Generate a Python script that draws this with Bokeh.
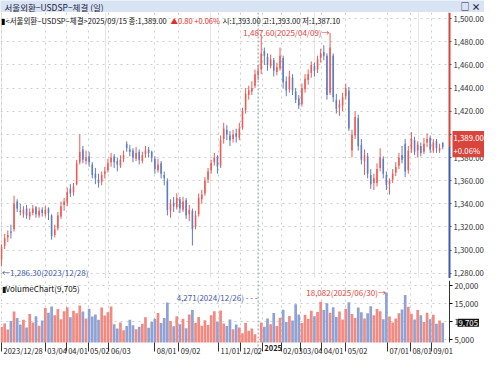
import numpy as np
from bokeh.plotting import figure
from bokeh.layouts import column
from bokeh.models import (Range1d, FixedTicker, NumeralTickFormatter, Grid, Span,
                          Label, ColumnDataSource, BoxAnnotation)
from bokeh.embed import file_html
from bokeh.resources import INLINE

FONT = "Noto Sans CJK KR"

# ---------------- data ----------------
title_text = "서울외환−USDSP−체결 (일)"
series_name = "서울외환−USDSP−체결"
last_date = "2025/09/15"

tick_days = [0, 42, 62, 83, 103, 147, 170, 208, 229, 250, 268, 287, 307, 330, 370, 392, 412]
tick_labels = ["2023/12/28", "03/04", "04/01", "05/02", "06/03", "08/01", "09/02", "11/01",
               "12/02", "2025", "02/03", "03/04", "04/01", "05/02", "07/01", "08/01", "09/01"]
price_ticks = [1280, 1300, 1320, 1340, 1360, 1380, 1400, 1420, 1440, 1460, 1480, 1500]
vol_ticks = [5000, 10000, 15000, 20000]

max_date = "2025/04/09"
min_date = "2023/12/28"
vmax_date = "2025/06/30"
vmin_date = "2024/12/26"

opens = [1292, 1304, 1311, 1316, 1318, 1342, 1334, 1331, 1336, 1329,
         1332, 1337, 1330, 1335, 1331, 1336, 1330, 1313, 1319, 1329,
         1339, 1341, 1353, 1350, 1357, 1376, 1387, 1377, 1381, 1374,
         1366, 1361, 1359, 1366, 1369, 1376, 1381, 1377, 1373, 1379,
         1392, 1387, 1386, 1379, 1385, 1377, 1383, 1387, 1385, 1379,
         1369, 1375, 1365, 1360, 1334, 1341, 1337, 1344, 1335, 1343,
         1331, 1334, 1320, 1331, 1344, 1349, 1361, 1369, 1376, 1381,
         1373, 1396, 1404, 1399, 1396, 1401, 1397, 1406, 1421, 1434,
         1437, 1442, 1451, 1456, 1472, 1467, 1459, 1464, 1454, 1457,
         1466, 1446, 1439, 1449, 1437, 1431, 1426, 1439, 1447, 1453,
         1459, 1456, 1466, 1471, 1468, 1436, 1468, 1430, 1423, 1425,
         1433, 1438, 1386, 1399, 1414, 1391, 1377, 1381, 1365, 1358,
         1358, 1371, 1379, 1365, 1357, 1361, 1367, 1373, 1382, 1392,
         1369, 1387, 1395, 1386, 1390, 1385, 1393, 1397, 1386, 1394,
         1386, 1393]
highs = [1305, 1314, 1317, 1322, 1347, 1344, 1340, 1338, 1339, 1336,
         1339, 1338, 1337, 1337, 1338, 1337, 1331, 1322, 1333, 1342,
         1345, 1354, 1357, 1358, 1378, 1400, 1390, 1386, 1385, 1376,
         1371, 1366, 1368, 1372, 1379, 1384, 1383, 1380, 1382, 1386,
         1394, 1391, 1388, 1389, 1387, 1385, 1390, 1389, 1386, 1381,
         1379, 1377, 1368, 1362, 1344, 1346, 1349, 1346, 1346, 1345,
         1339, 1336, 1334, 1349, 1352, 1363, 1371, 1378, 1384, 1382,
         1399, 1410, 1408, 1403, 1404, 1405, 1410, 1423, 1440, 1442,
         1446, 1456, 1460, 1486, 1475, 1470, 1469, 1466, 1462, 1475,
         1468, 1450, 1455, 1452, 1440, 1434, 1444, 1452, 1456, 1463,
         1462, 1468, 1474, 1477, 1470, 1487.6, 1470, 1435, 1430, 1436,
         1444, 1441, 1404, 1420, 1417, 1396, 1387, 1384, 1370, 1366,
         1375, 1388, 1381, 1368, 1362, 1370, 1376, 1384, 1390, 1396,
         1390, 1402, 1398, 1394, 1393, 1397, 1401, 1399, 1396, 1396,
         1392, 1393]
lows = [1286.3, 1301, 1307, 1310, 1316, 1333, 1330, 1328, 1327, 1326,
        1330, 1328, 1328, 1329, 1329, 1326, 1309, 1311, 1317, 1327,
        1334, 1338, 1346, 1347, 1356, 1374, 1375, 1374, 1372, 1362,
        1357, 1354, 1356, 1362, 1367, 1372, 1371, 1368, 1371, 1376,
        1385, 1381, 1376, 1377, 1374, 1375, 1380, 1380, 1376, 1366,
        1367, 1362, 1356, 1330, 1328, 1333, 1335, 1332, 1333, 1327,
        1325, 1304, 1318, 1329, 1340, 1347, 1358, 1366, 1373, 1366,
        1371, 1392, 1395, 1390, 1393, 1393, 1395, 1404, 1418, 1430,
        1434, 1440, 1447, 1452, 1460, 1455, 1457, 1450, 1451, 1455,
        1440, 1433, 1436, 1434, 1427, 1422, 1424, 1436, 1443, 1449,
        1450, 1453, 1462, 1464, 1430, 1434, 1428, 1418, 1416, 1420,
        1430, 1403, 1380, 1396, 1386, 1374, 1365, 1362, 1353, 1352,
        1355, 1368, 1362, 1352, 1348, 1358, 1364, 1370, 1375, 1363,
        1366, 1384, 1382, 1380, 1381, 1383, 1389, 1384, 1384, 1384,
        1384, 1387.1]
closes = [1303, 1310, 1313, 1315, 1340, 1336, 1333, 1335, 1330, 1333,
          1336, 1331, 1334, 1332, 1335, 1332, 1312, 1318, 1330, 1338,
          1342, 1350, 1349, 1355, 1375, 1385, 1378, 1380, 1376, 1365,
          1362, 1358, 1365, 1368, 1375, 1380, 1376, 1374, 1378, 1382,
          1388, 1385, 1380, 1384, 1378, 1382, 1386, 1384, 1380, 1370,
          1374, 1366, 1362, 1335, 1340, 1338, 1345, 1336, 1342, 1330,
          1335, 1318, 1330, 1345, 1348, 1360, 1368, 1375, 1380, 1372,
          1395, 1405, 1400, 1395, 1400, 1398, 1405, 1420, 1435, 1438,
          1440, 1452, 1455, 1470, 1468, 1460, 1465, 1455, 1458, 1468,
          1445, 1438, 1450, 1438, 1430, 1425, 1440, 1448, 1452, 1460,
          1455, 1465, 1470, 1468, 1434, 1475, 1432, 1422, 1426, 1432,
          1440, 1405, 1400, 1415, 1390, 1378, 1382, 1366, 1357, 1362,
          1370, 1380, 1366, 1356, 1360, 1366, 1372, 1380, 1378, 1368,
          1386, 1396, 1385, 1391, 1384, 1392, 1396, 1387, 1393, 1388,
          1388.2, 1389]
volumes = [8500, 9500, 7800, 10200, 12800,
           11000, 9200, 10500, 8400, 12100, 9800, 11500, 8900, 10300,
           13800, 12500, 14200, 11800, 13500, 10700, 12900, 14000,
           11200, 13000, 12300, 14500, 12800, 10900, 13600, 11400, 12000, 10500, 13900, 11700, 12600, 14200,
           9300, 8100, 9800, 7600, 8800, 10500, 9000, 7900, 8600, 9400, 11200, 8300, 9900, 10800,
           12400, 9600, 11000, 15300,
           10200, 8700, 11500, 9300, 10800, 8200, 12000, 13200, 9700, 11300,
           8900, 10400, 9100, 11800, 12900, 10000, 13100, 9500, 8800, 10600,
           7900, 9200, 8400, 6800, 9600, 7500, 8100, 6500, 4271,
           9800, 8600, 10900, 9300, 12400, 8800, 11100, 13300, 9900, 11600,
           10300, 14800, 12000, 9600, 11900, 10800, 13000, 11500, 12700,
           15500, 13200, 15100, 12500, 14000, 11300, 12800, 10600, 13600, 15400,
           12100, 11000, 13900, 12600, 10900, 12300, 14300, 11800, 13500, 12900, 10700,
           18082,
           11400, 9800, 10900, 12300, 13400, 17400, 14100, 12200, 10600, 13200,
           11800, 9900, 12500, 10700, 11900, 9400, 10300, 9705]

day_step = 3

# ---------------- derived ----------------
n = len(closes)
days = np.arange(n) * day_step
o = np.array(opens, float); h = np.array(highs, float)
l = np.array(lows, float); c = np.array(closes, float)
v = np.array(volumes, float)
up = c >= o
RED, BLUE = "#ec5c55", "#5f7cc2"
VRED, VBLUE = "#f28a82", "#8fa2d3"
cols = [RED if u else BLUE for u in up]
vcols = [VRED if u else VBLUE for u in up]

W = 484
AXIS_PX = 449                      # pixel where the right axis sits
X0, X1 = -1, 429.5                 # data area (trading-day index)
XE = X1 + (W - AXIS_PX) * (X1 - X0) / AXIS_PX
P0, P1 = 1275.5, 1505.3
PH = 266
V0, V1 = 4230, 21400
VH, VB = 62, 13
VBOT = V0 - VB * (V1 - V0) / VH
GRID = "#cdcdcd"
AXF = "7.8px"

src = ColumnDataSource(dict(x=days, o=o, h=h, l=l, c=c,
                            top=np.maximum(o, c), bot=np.minimum(o, c),
                            col=cols, vol=v, vcol=vcols))


def lab(fig, text, x, y, xu="data", yu="data", color="#111111", align="left",
        base="middle", size="8px", bold=False, xo=0, yo=0, bg=None, pad=0):
    lb = Label(x=x, y=y, x_units=xu, y_units=yu, text=text, text_color=color,
               text_align=align, text_baseline=base, text_font=FONT,
               text_font_size=size, text_font_style="bold" if bold else "normal",
               x_offset=xo, y_offset=yo)
    if bg is not None:
        lb.background_fill_color = bg
        lb.padding = pad
    fig.add_layout(lb)


# ---------------- header bar ----------------
hdr = figure(width=W, height=12, x_range=Range1d(0, W), y_range=Range1d(0, 12),
             toolbar_location=None, output_backend="svg", min_border=0,
             x_axis_location=None, y_axis_location=None,
             background_fill_color="#d8e4f3", border_fill_color="#d8e4f3",
             outline_line_color=None)
hdr.xgrid.visible = False
hdr.ygrid.visible = False
lab(hdr, title_text, 4, 6, size="8.5px", color="#1c2040")
lab(hdr, "□ ×", 480, 6, align="right", size="9px", color="#1c2040", bold=True)

# ---------------- price panel ----------------
p = figure(width=W, height=PH, x_range=Range1d(X0, XE), y_range=Range1d(P0, P1),
           x_axis_location=None, y_axis_location="right", toolbar_location=None,
           output_backend="svg", min_border=0, outline_line_color=None)
p.yaxis.fixed_location = X1
p.yaxis.ticker = FixedTicker(ticks=price_ticks)
p.yaxis.formatter = NumeralTickFormatter(format="0,0.00")
p.yaxis.major_label_text_font = FONT
p.yaxis.major_label_text_font_size = AXF
p.yaxis.major_label_text_color = "#333333"
p.yaxis.major_label_standoff = 2
p.yaxis.major_tick_out = 2
p.yaxis.major_tick_in = 0
p.yaxis.minor_tick_out = 0
p.yaxis.minor_tick_in = 0
p.yaxis.major_tick_line_color = "#555555"
p.yaxis.axis_line_color = None
p.ygrid.grid_line_color = GRID
p.ygrid.grid_line_dash = "dotted"
p.add_layout(Grid(dimension=0, ticker=FixedTicker(ticks=tick_days),
                  grid_line_color=GRID, grid_line_dash="dotted"))
p.add_layout(BoxAnnotation(left=X1, fill_color="#ffffff", fill_alpha=1.0,
                           line_color=None, level="underlay"))

p.segment(x0="x", y0="h", x1="x", y1="l", color="col", line_width=1, source=src)
p.vbar(x="x", width=1.5, top="top", bottom="bot", fill_color="col", line_color=None, source=src)

# axis line: red above the current price, blue below
p.segment(x0=[X1, X1], y0=[c[-1], P0], x1=[X1, X1], y1=[P1, c[-1]],
          color=["#d8453c", "#3d5cb0"], line_width=2)

imin_v = int(np.argmin(v))
p.add_layout(Span(location=days[imin_v], dimension="height", line_color="#8a93aa",
                  line_dash="2 2", line_width=1))

# info line
chg = c[-1] - c[-2]
pct = chg / c[-2] * 100
INFO = "7.5px"
lab(p, "▮", 0, P1, xu="screen", base="top", yo=-2, size=INFO, color="#000000")
lab(p, f"<{series_name}>{last_date} 종:{c[-1]:,.2f}", 5, P1, xu="screen", base="top",
    yo=-2, size=INFO)
lab(p, f"▲{chg:.2f} +{pct:.2f}%", 170, P1, xu="screen", base="top", yo=-2,
    color="#e0302a", size=INFO)
lab(p, f"시:{o[-1]:,.2f} 고:{h[-1]:,.2f} 저:{l[-1]:,.2f}", 222, P1, xu="screen",
    base="top", yo=-2, size=INFO)

# max / min markers
imax = int(np.argmax(h))
imin = int(np.argmin(l))
lab(p, f"{h[imax]:,.2f}({max_date})→", days[imax] - 0.5, h[imax], align="right",
    color="#e0453c", size="8px")
lab(p, f"←{l[imin]:,.2f}({min_date})", days[imin] + 0.5, l[imin], align="left",
    base="top", color="#3f5aa8", size="8px", yo=-1)

# current price box
lab(p, f"{c[-1]:,.2f}\n+{pct:.2f}%", X1, c[-1], align="left", base="middle",
    color="#ffffff", size=AXF, xo=3, yo=3, bg="#d8453c", pad=1)

# ---------------- separator ----------------
sep = figure(width=W, height=2, toolbar_location=None, output_backend="svg", min_border=0,
             x_axis_location=None, y_axis_location=None,
             background_fill_color="#b4b4b4", border_fill_color="#b4b4b4",
             outline_line_color=None)
sep.xgrid.visible = False
sep.ygrid.visible = False

# ---------------- volume panel ----------------
vf = figure(width=W, height=VH + VB, x_range=p.x_range, y_range=Range1d(VBOT, V1),
            y_axis_location="right", x_axis_location="below", toolbar_location=None,
            output_backend="svg", min_border=0, outline_line_color=None)
vf.yaxis.fixed_location = X1
vf.yaxis.bounds = (V0, V1)
vf.yaxis.ticker = FixedTicker(ticks=vol_ticks)
vf.yaxis.formatter = NumeralTickFormatter(format="0,0")
vf.yaxis.major_label_text_font = FONT
vf.yaxis.major_label_text_font_size = AXF
vf.yaxis.major_label_text_color = "#333333"
vf.yaxis.major_label_standoff = 2
vf.yaxis.major_tick_out = 3
vf.yaxis.major_tick_in = 0
vf.yaxis.minor_tick_out = 0
vf.yaxis.minor_tick_in = 0
vf.yaxis.axis_line_color = "#333333"
vf.ygrid.grid_line_color = GRID
vf.ygrid.grid_line_dash = "dotted"

vf.xaxis.fixed_location = V0
vf.xaxis.ticker = FixedTicker(ticks=tick_days)
vf.xaxis.major_label_overrides = {t: "" for t in tick_days}
vf.xaxis.major_label_text_font_size = "0px"
vf.xaxis.major_label_standoff = 0
vf.xaxis.major_tick_out = 9
vf.xaxis.major_tick_in = 0
vf.xaxis.minor_tick_out = 0
vf.xaxis.minor_tick_in = 0
vf.xaxis.major_tick_line_color = "#333333"
vf.xaxis.axis_line_color = None
vf.xgrid.grid_line_color = GRID
vf.xgrid.grid_line_dash = "dotted"
vf.add_layout(BoxAnnotation(left=X1, fill_color="#ffffff", fill_alpha=1.0,
                            line_color=None, level="underlay"))
vf.add_layout(BoxAnnotation(top=V0, fill_color="#ffffff", fill_alpha=1.0,
                            line_color=None, level="underlay"))

vf.vbar(x="x", width=2.6, top="vol", bottom=V0, fill_color="vcol", line_color=None, source=src)
vf.add_layout(Span(location=days[imin_v], dimension="height", line_color="#8a93aa",
                   line_dash="2 2", line_width=1))

for t, s in zip(tick_days, tick_labels):
    lab(vf, s, t, V0, base="top", xo=2, yo=-2, size="7.5px", color="#222222",
        bold=(s == "2025"))

lab(vf, f"▮VolumeChart({v[-1]:,.0f})", 1, V1, xu="screen", base="top", yo=-2, size="8px",
    color="#111111")
imax_v = int(np.argmax(v))
lab(vf, f"{v[imax_v]:,.0f}({vmax_date})→", days[imax_v] - 0.5, v[imax_v], align="right",
    color="#e0453c")
lab(vf, f"{v[imin_v]:,.0f}({vmin_date}) - - -", days[imin_v] - 0.5, V1, align="right",
    base="middle", yo=-17, color="#3f5aa8")
lab(vf, f"{v[-1]:,.0f}", X1, v[-1], align="left", base="middle", color="#ffffff",
    xo=8, bg="#111111", pad=1, size=AXF)

layout = column(hdr, p, sep, vf, spacing=0)
open("out.html", "w").write(file_html(layout, INLINE))
